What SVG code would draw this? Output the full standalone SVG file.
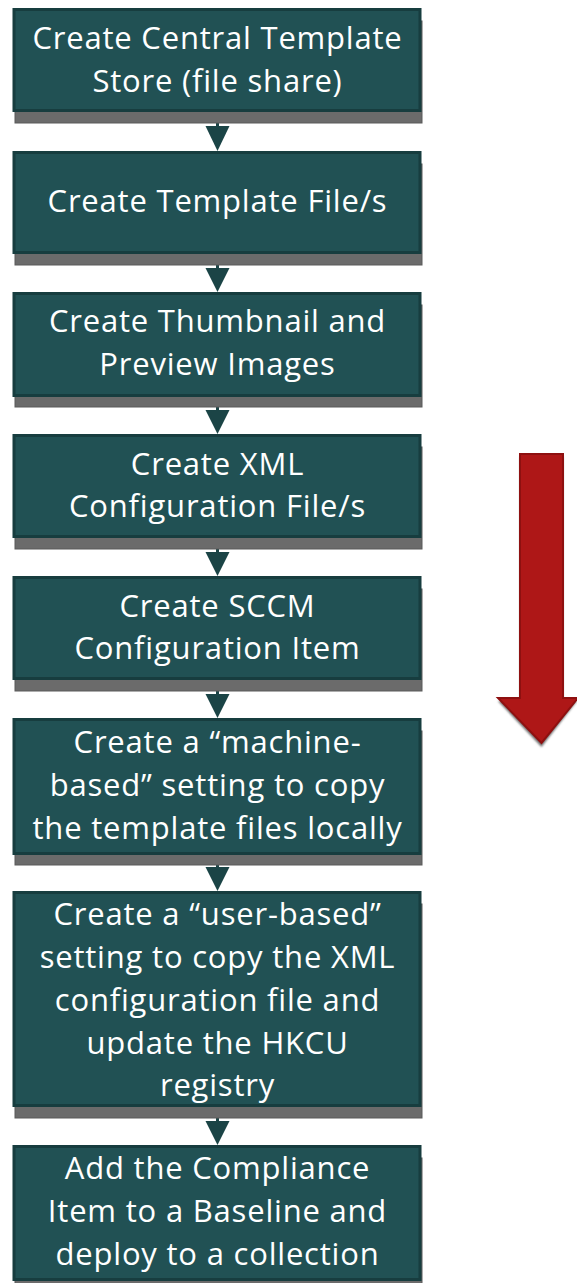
<svg xmlns="http://www.w3.org/2000/svg" width="577" height="1283" viewBox="0 0 577 1283">
  <style>
    .box { fill: #215154; stroke: #173d3f; stroke-width: 3; }
    .shadow { fill: #6b6b6b; stroke: #5a5a5a; stroke-width: 1; }
    .label { fill: #ffffff; font-family: "Open Sans", "Liberation Sans", sans-serif; font-size: 31px; letter-spacing: 0.8px; text-anchor: middle; }
    .link { stroke: #1b4446; stroke-width: 3; fill: none; }
    .head { fill: #1b4446; }
  </style>
  <defs>
    <filter id="soft" x="-20%" y="-20%" width="140%" height="140%">
      <feGaussianBlur stdDeviation="1"/>
    </filter>
  </defs>

  <rect width="577" height="1283" fill="#ffffff"/>

  <!-- connectors between steps -->
  <g id="connectors">
    <line class="link" x1="217.5" y1="111" x2="217.5" y2="130"/>
    <polygon class="head" points="205.5,126 229.5,126 217.5,151"/>
    <line class="link" x1="217.5" y1="253" x2="217.5" y2="272"/>
    <polygon class="head" points="205.5,268 229.5,268 217.5,292"/>
    <line class="link" x1="217.5" y1="396" x2="217.5" y2="415"/>
    <polygon class="head" points="205.5,410 229.5,410 217.5,434"/>
    <line class="link" x1="217.5" y1="537" x2="217.5" y2="556"/>
    <polygon class="head" points="205.5,552 229.5,552 217.5,576"/>
    <line class="link" x1="217.5" y1="679" x2="217.5" y2="698"/>
    <polygon class="head" points="205.5,694 229.5,694 217.5,718"/>
    <line class="link" x1="217.5" y1="854" x2="217.5" y2="872"/>
    <polygon class="head" points="205.5,867 229.5,867 217.5,891"/>
    <line class="link" x1="217.5" y1="1106" x2="217.5" y2="1126"/>
    <polygon class="head" points="205.5,1121 229.5,1121 217.5,1145"/>
  </g>

  <g id="step1">
    <rect class="shadow" x="15" y="21" width="407" height="102"/>
    <rect class="box" x="14" y="9.5" width="406" height="101"/>
    <text class="label" x="217.5" y="49">Create Central Template</text>
    <text class="label" x="217.5" y="92">Store (file share)</text>
  </g>

  <g id="step2">
    <rect class="shadow" x="15" y="164" width="407" height="101"/>
    <rect class="box" x="14" y="152.5" width="406" height="100"/>
    <text class="label" x="217.5" y="212">Create Template File/s</text>
  </g>

  <g id="step3">
    <rect class="shadow" x="15" y="305" width="407" height="102"/>
    <rect class="box" x="14" y="293.5" width="406" height="102"/>
    <text class="label" x="217.5" y="332">Create Thumbnail and</text>
    <text class="label" x="217.5" y="375">Preview Images</text>
  </g>

  <g id="step4">
    <rect class="shadow" x="15" y="447" width="407" height="102"/>
    <rect class="box" x="14" y="435.5" width="406" height="101"/>
    <text class="label" x="217.5" y="475">Create XML</text>
    <text class="label" x="217.5" y="517">Configuration File/s</text>
  </g>

  <g id="step5">
    <rect class="shadow" x="15" y="589" width="407" height="102"/>
    <rect class="box" x="14" y="577.5" width="406" height="101"/>
    <text class="label" x="217.5" y="617">Create SCCM</text>
    <text class="label" x="217.5" y="659">Configuration Item</text>
  </g>

  <g id="step6">
    <rect class="shadow" x="15" y="731" width="407" height="134"/>
    <rect class="box" x="14" y="719.5" width="406" height="134"/>
    <text class="label" x="217.5" y="753">Create a “machine-</text>
    <text class="label" x="217.5" y="796">based” setting to copy</text>
    <text class="label" x="217.5" y="839">the template files locally</text>
  </g>

  <g id="step7">
    <rect class="shadow" x="15" y="904" width="407" height="214"/>
    <rect class="box" x="14" y="892.5" width="406" height="213"/>
    <text class="label" x="217.5" y="925">Create a “user-based”</text>
    <text class="label" x="217.5" y="968">setting to copy the XML</text>
    <text class="label" x="217.5" y="1011">configuration file and</text>
    <text class="label" x="217.5" y="1054">update the HKCU</text>
    <text class="label" x="217.5" y="1096">registry</text>
  </g>

  <g id="step8">
    <rect class="shadow" x="15" y="1158" width="407" height="134"/>
    <rect class="box" x="14" y="1146.5" width="406" height="133"/>
    <text class="label" x="217.5" y="1179">Add the Compliance</text>
    <text class="label" x="217.5" y="1222">Item to a Baseline and</text>
    <text class="label" x="217.5" y="1265">deploy to a collection</text>
  </g>

  <!-- large downward direction arrow -->
  <g id="direction-arrow">
    <polygon points="520,457 563,457 563,701 577,701 541.5,747 498,701 520,701" fill="#6e6e6e" filter="url(#soft)"/>
    <polygon points="520,454 563,454 563,698 578,698 541.5,743 498,698 520,698" fill="#ae1717" stroke="#8e1010" stroke-width="2" stroke-linejoin="miter"/>
  </g>
</svg>
